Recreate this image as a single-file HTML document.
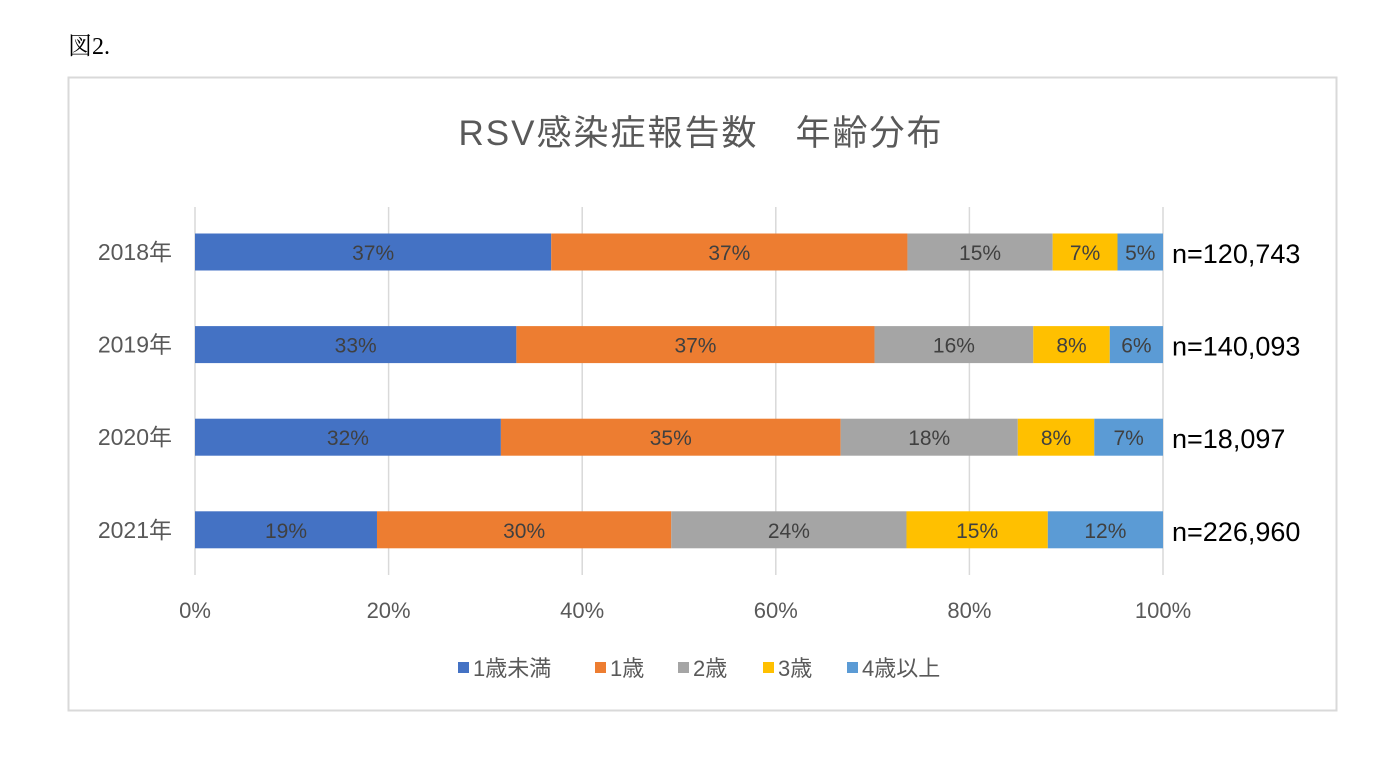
<!DOCTYPE html>
<html><head><meta charset="utf-8"><style>
body{margin:0;background:#fff;width:1400px;height:772px;overflow:hidden;font-family:"Liberation Sans","Noto Sans CJK JP",sans-serif}
</style></head><body>
<svg width="1400" height="772" xmlns="http://www.w3.org/2000/svg">
<text x="68" y="54" font-family="Liberation Serif,'Noto Serif CJK SC',serif" font-size="24" fill="#000">図2.</text>
<rect x="68.5" y="77.5" width="1268" height="633" fill="#fff" stroke="#d9d9d9" stroke-width="2"/>
<text x="701" y="145" text-anchor="middle" font-size="35" letter-spacing="2" fill="#595959" font-family="Liberation Sans,'Noto Sans CJK JP',sans-serif">RSV感染症報告数　年齢分布</text>
<g id="grid"></g><g id="bars"></g><g id="labels"></g>
<g id="legend"></g>
</svg>
<script>
const years=["2018年","2019年","2020年","2021年"];
const nLabels=["n=120,743","n=140,093","n=18,097","n=226,960"];
const seriesNames=["1歳未満","1歳","2歳","3歳","4歳以上"];
const under1=[36.8,33.2,31.6,18.8];
const age1=[36.8,37.0,35.1,30.4];
const age2=[15.0,16.4,18.3,24.3];
const age3=[6.7,7.9,7.9,14.6];
const age4=[4.7,5.5,7.1,11.9];
const ticks=["0%","20%","40%","60%","80%","100%"];
const series=[under1,age1,age2,age3,age4];
const colors=["#4472c4","#ed7d31","#a5a5a5","#ffc000","#5b9bd5"];
const NS="http://www.w3.org/2000/svg";
const x0=195,x1=1163;const X=v=>x0+(x1-x0)*v/100;
const rowY=i=>252+i*92.6;
function mk(t,a,p){const e=document.createElementNS(NS,t);for(const k in a)e.setAttribute(k,a[k]);p.appendChild(e);return e;}
const grid=document.getElementById('grid'),bars=document.getElementById('bars'),labels=document.getElementById('labels'),legend=document.getElementById('legend');
ticks.forEach((t,i)=>{const x=X(i*20);
const l=mk('line',{x1:x,x2:x,y1:207,y2:575,stroke:'#d9d9d9','stroke-width':1.5},grid);

const tx=mk('text',{x:x,y:618,'text-anchor':'middle','font-size':22,fill:'#595959'},grid);tx.textContent=t;
});
years.forEach((y,i)=>{const cy=rowY(i);let acc=0;
const yl=mk('text',{x:172,y:cy+8,'text-anchor':'end','font-size':23,fill:'#595959'},labels);yl.textContent=y;

series.forEach((s,j)=>{const v=s[i];const r=mk('rect',{x:X(acc),y:cy-18.5,width:X(acc+v)-X(acc),height:37,fill:colors[j]},bars);

const t=mk('text',{x:(X(acc)+X(acc+v))/2,y:cy+8,'text-anchor':'middle','font-size':21,fill:'#404040'},bars);t.textContent=Math.round(v)+'%';
acc+=v;});
const n=mk('text',{x:1172,y:cy+11,'font-size':27,fill:'#000'},labels);n.textContent=nLabels[i];
});
const lx=[458,595,678,763,847];
seriesNames.forEach((nm,j)=>{const g=mk('g',{},legend);
mk('rect',{x:lx[j],y:662,width:11,height:11,fill:colors[j]},g);
const t=mk('text',{x:lx[j]+15,y:676,'font-size':22,fill:'#595959'},g);t.textContent=nm;});
</script>
</body></html>
